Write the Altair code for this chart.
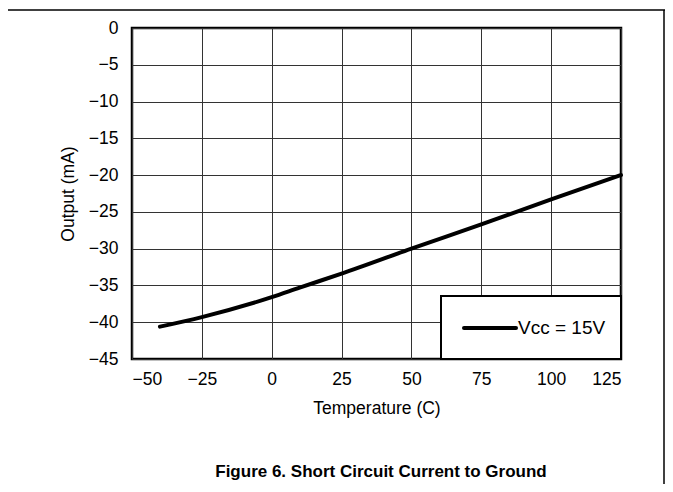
import altair as alt
import pandas as pd

# Data
temperature = [-40, -25, 0, 10, 25, 50, 75, 100, 125]
output_ma = [-40.6, -39.3, -36.6, -35.3, -33.4, -30.0, -26.7, -23.3, -20.0]
series_label = "Vcc = 15V"
x_ticks = [-50, -25, 0, 25, 50, 75, 100, 125]
y_ticks = [-45, -40, -35, -30, -25, -20, -15, -10, -5, 0]
caption = "Figure 6. Short Circuit Current to Ground"

df = pd.DataFrame({"t": temperature, "out": output_ma})

W, H = 489, 331
FONT = "Liberation Sans"

one = alt.Data(values=[{"a": 1}])

line = alt.Chart(df).mark_line(color="black", strokeWidth=4, strokeCap="round", interpolate="monotone").encode(
    x=alt.X("t:Q", scale=alt.Scale(domain=[-50, 125], nice=False),
            axis=alt.Axis(values=x_ticks, title="Temperature (C)", titlePadding=12)),
    y=alt.Y("out:Q", scale=alt.Scale(domain=[-45, 0], nice=False),
            axis=alt.Axis(values=y_ticks, title="Output (mA)", titlePadding=11)),
)

legend_box = alt.Chart(one).mark_rect(fill="white", stroke="black", strokeWidth=2).encode(
    x=alt.value(309), x2=alt.value(489), y=alt.value(268), y2=alt.value(331)
)
legend_line = alt.Chart(one).mark_rule(color="black", strokeWidth=4, strokeCap="round").encode(
    x=alt.value(332), x2=alt.value(384), y=alt.value(300)
)
legend_text = alt.Chart(one).mark_text(text=series_label, align="left", baseline="middle",
                                       font=FONT, fontSize=19, color="black").encode(
    x=alt.value(386), y=alt.value(300)
)
caption_text = alt.Chart(one).mark_text(text=caption, align="center", baseline="alphabetic",
                                        font=FONT, fontSize=17, fontWeight="bold", color="black").encode(
    x=alt.value(249), y=alt.value(449)
)
top_rule = alt.Chart(one).mark_rule(color="black", strokeWidth=1.5).encode(
    x=alt.value(-124), x2=alt.value(540), y=alt.value(-18)
)
right_rule = alt.Chart(one).mark_rule(color="black", strokeWidth=1.5).encode(
    x=alt.value(532), y=alt.value(-18), y2=alt.value(460)
)

chart = alt.layer(line, legend_box, legend_line, legend_text, caption_text, top_rule, right_rule).properties(
    width=W, height=H,
    autosize=alt.AutoSizeParams(type="none"),
    padding={"left": 124, "top": 20, "right": 44, "bottom": 125},
).configure_view(
    stroke="black", strokeWidth=2.5
).configure_axis(
    grid=True, gridColor="#333333", gridWidth=1, domain=False, ticks=False,
    labelFont=FONT, labelFontSize=17.5, labelColor="black", labelPadding=11,
    titleFont=FONT, titleFontSize=17.5, titleFontWeight="normal", titleColor="black",
).configure_axisY(labelPadding=14)

chart.save("out.html", embed_options={"renderer": "svg", "actions": False})
